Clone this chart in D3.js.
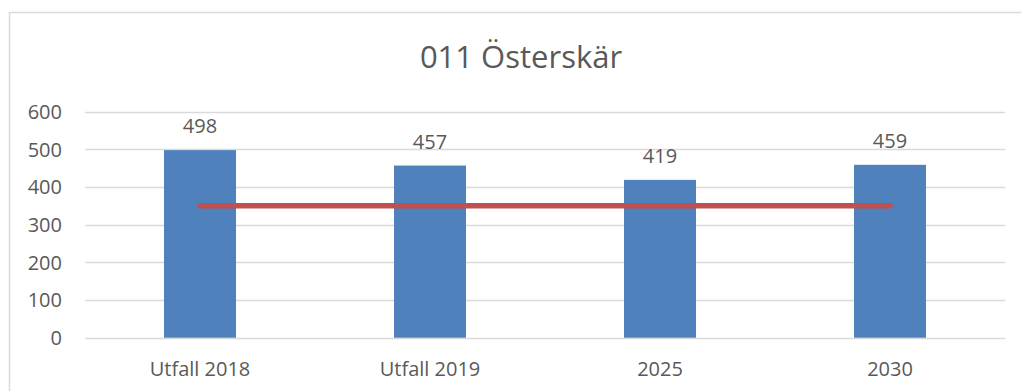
<!DOCTYPE html>
<html>
<head>
<meta charset="utf-8">
<script src="https://cdn.jsdelivr.net/npm/d3@7"></script>
<style>
  html, body { margin: 0; padding: 0; background: #ffffff; }
  svg { display: block; }
  text { font-family: "Open Sans", "Liberation Sans", sans-serif; fill: #595959; }
</style>
</head>
<body>
<svg id="chart" width="1021" height="391"></svg>
<script>
// Chart data
const title = "011 Österskär";
const categories = ["Utfall 2018", "Utfall 2019", "2025", "2030"];
const values = [498, 457, 419, 459];
const capacity = [350, 350, 350, 350];
const yTicks = [0, 100, 200, 300, 400, 500, 600];

const svg = d3.select("#chart");

// Outer chart frame (runs past the right and bottom edges)
svg.append("rect")
  .attr("x", 9.5).attr("y", 12.5)
  .attr("width", 1040).attr("height", 400)
  .attr("fill", "#ffffff")
  .attr("stroke", "#d9d9d9")
  .attr("stroke-width", 1.5);

const plot = { left: 85, right: 1005, top: 111.7, bottom: 337.7 };

const x = d3.scaleBand()
  .domain(categories)
  .range([plot.left, plot.right])
  .paddingInner(0)
  .paddingOuter(0);

const y = d3.scaleLinear()
  .domain([0, 600])
  .range([plot.bottom, plot.top]);

// Horizontal gridlines
svg.append("g")
  .selectAll("line")
  .data(yTicks)
  .join("line")
  .attr("x1", plot.left).attr("x2", plot.right)
  .attr("y1", d => Math.round(y(d)) + 0.5)
  .attr("y2", d => Math.round(y(d)) + 0.5)
  .attr("stroke", "#d9d9d9")
  .attr("stroke-width", 1.5);

// Y axis labels
svg.append("g")
  .selectAll("text")
  .data(yTicks)
  .join("text")
  .attr("x", 62)
  .attr("y", d => y(d))
  .attr("dy", "0.36em")
  .attr("text-anchor", "end")
  .attr("font-size", 20)
  .text(d => d);

// Bars
const barW = x.bandwidth() * 0.313;
svg.append("g")
  .selectAll("rect")
  .data(values)
  .join("rect")
  .attr("x", (d, i) => x(categories[i]) + x.bandwidth() / 2 - barW / 2)
  .attr("y", d => y(d))
  .attr("width", barW)
  .attr("height", d => y(0) - y(d))
  .attr("fill", "#4f81bd");

// Value labels above bars
svg.append("g")
  .selectAll("text")
  .data(values)
  .join("text")
  .attr("x", (d, i) => x(categories[i]) + x.bandwidth() / 2)
  .attr("y", d => y(d) - 17)
  .attr("text-anchor", "middle")
  .attr("font-size", 20)
  .text(d => d);

// Capacity line
const line = d3.line()
  .x((d, i) => x(categories[i]) + x.bandwidth() / 2)
  .y(d => y(d));
svg.append("path")
  .datum(capacity)
  .attr("d", line)
  .attr("fill", "none")
  .attr("stroke", "#c0504d")
  .attr("stroke-width", 5.5)
  .attr("stroke-linecap", "round");

// Category labels
svg.append("g")
  .selectAll("text")
  .data(categories)
  .join("text")
  .attr("x", d => x(d) + x.bandwidth() / 2)
  .attr("y", 376)
  .attr("text-anchor", "middle")
  .attr("font-size", 20)
  .text(d => d);

// Title
svg.append("text")
  .attr("x", 521)
  .attr("y", 68)
  .attr("text-anchor", "middle")
  .attr("font-size", 31)
  .text(title);
</script>
</body>
</html>
